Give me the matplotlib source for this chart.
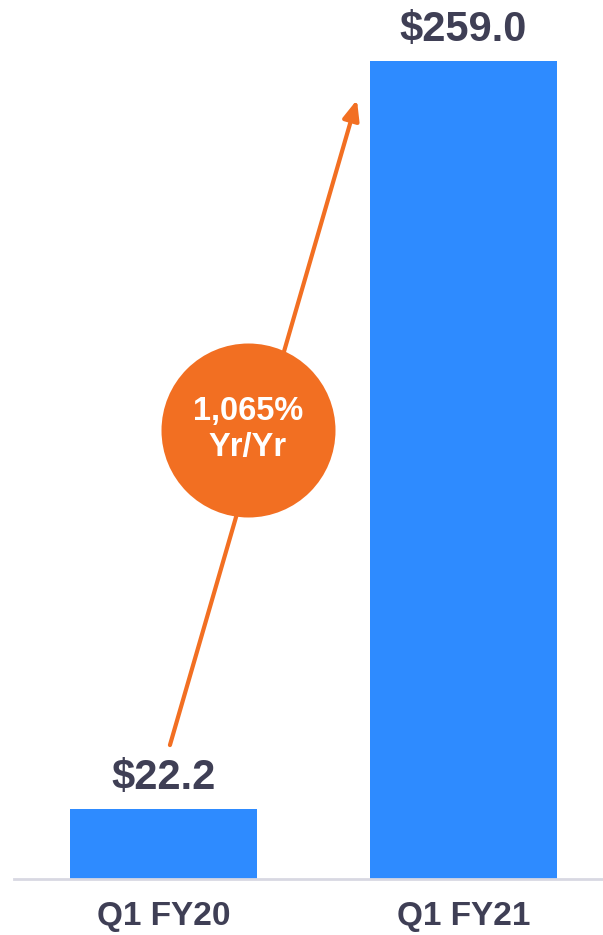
import matplotlib
matplotlib.use("Agg")
import matplotlib.pyplot as plt

categories = ["Q1 FY20", "Q1 FY21"]
values = [22.2, 259.0]
value_labels = ["$22.2", "$259.0"]
growth_label = "1,065%\nYr/Yr"

BLUE = "#2E8BFF"
ORANGE = "#F26F22"
TEXT = "#3F3F55"
GRID = "#D8D8E2"

plt.rcParams['font.family'] = ['Liberation Sans', 'DejaVu Sans']

fig = plt.figure(figsize=(6.03, 9.35), dpi=100)
ax = fig.add_axes([14/603, 56/935, 1 - 14/603, 1 - 56/935])
x = list(range(len(categories)))
ax.bar(x, values, width=0.623, color=BLUE, zorder=2)
ax.set_xlim(-0.498, 1.465)
ax.set_ylim(0, 278.3)

for xi, v, lab in zip(x, values, value_labels):
    ax.annotate(lab, (xi, v), xytext=(0, 8), textcoords="offset points",
                ha="center", va="bottom", fontsize=30, fontweight="bold", color=TEXT)

for s in ["top", "right", "left"]:
    ax.spines[s].set_visible(False)
ax.spines["bottom"].set_color(GRID)
ax.spines["bottom"].set_linewidth(2)
ax.set_yticks([])
ax.set_xticks(x)
ax.set_xticklabels(categories, fontsize=24, fontweight="bold", color=TEXT)
ax.tick_params(axis="x", length=0, pad=16)

# growth arrow
ax.annotate("", xy=(0.645, 246.7), xytext=(0.0217, 42.4),
            arrowprops=dict(arrowstyle="-|>,head_length=1.2,head_width=0.5",
                            color=ORANGE, lw=3, shrinkA=0, shrinkB=0), zorder=3)
ax.scatter([0.282], [142.2], s=(174 * 0.72) ** 2, color=ORANGE, zorder=4, linewidths=0)
ax.text(0.282, 142.2, growth_label, ha="center", va="center", fontsize=23.5,
        fontweight="bold", color="white", linespacing=1.2, zorder=5)

fig.savefig("out.png", dpi=100)
